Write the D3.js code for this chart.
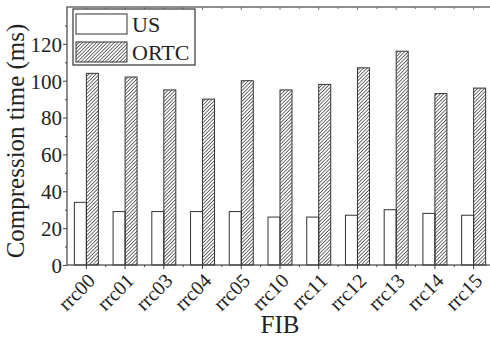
<!DOCTYPE html>
<html>
<head>
<meta charset="utf-8">
<script src="https://cdn.jsdelivr.net/npm/d3@7"></script>
<style>
  body { margin: 0; background: #fff; }
  text { font-family: "Liberation Serif", "Times New Roman", serif; fill: #222; }
</style>
</head>
<body>
<svg id="chart" width="490" height="338"></svg>
<script>
const categories = ["rrc00", "rrc01", "rrc03", "rrc04", "rrc05", "rrc10", "rrc11", "rrc12", "rrc13", "rrc14", "rrc15"];
const seriesNames = ["US", "ORTC"];
const usValues = [34, 29, 29, 29, 29, 26, 26, 27, 30, 28, 27];
const ortcValues = [104, 102, 95, 90, 100, 95, 98, 107, 116, 93, 96];
const yTicks = [0, 20, 40, 60, 80, 100, 120];

const svg = d3.select("#chart");
const margin = { left: 67, top: 7, right: -3, bottom: 73 };
const width = 490 - margin.left - margin.right;
const height = 338 - margin.top - margin.bottom;

// hatch pattern for ORTC
const defs = svg.append("defs");
defs.append("pattern")
    .attr("id", "hatch")
    .attr("patternUnits", "userSpaceOnUse")
    .attr("width", 2.5)
    .attr("height", 3)
    .attr("patternTransform", "rotate(45)")
    .append("line")
    .attr("x1", 0).attr("y1", 0)
    .attr("x2", 0).attr("y2", 3)
    .attr("stroke", "#111")
    .attr("stroke-width", 1.2);

const g = svg.append("g").attr("transform", `translate(${margin.left},${margin.top})`);

const x = d3.scaleBand().domain(categories).range([0, width]).padding(0);
const y = d3.scaleLinear().domain([0, 140]).range([height, 0]);
const barW = 12;

const fills = ["#fff", "url(#hatch)"];
const series = [usValues, ortcValues];

series.forEach((vals, si) => {
    g.selectAll(null)
        .data(vals)
        .enter()
        .append("rect")
        .attr("x", (d, i) => x(categories[i]) + x.bandwidth() / 2 - barW + si * barW)
        .attr("y", d => y(d))
        .attr("width", barW)
        .attr("height", d => height - y(d))
        .attr("fill", fills[si])
        .attr("stroke", "#333")
        .attr("stroke-width", 1);
});

// frame
g.append("rect")
    .attr("width", width).attr("height", height)
    .attr("fill", "none").attr("stroke", "#444").attr("stroke-width", 1.2);

// y axis, major + minor ticks
const yAxis = g.append("g")
    .call(d3.axisLeft(y).tickValues(yTicks).tickSize(4).tickPadding(1));
yAxis.select(".domain").remove();
yAxis.selectAll("text").style("font-size", "21px").attr("dy", "0.35em");
g.append("g")
    .call(d3.axisLeft(y).tickValues(d3.range(10, 140, 20)).tickSize(2).tickFormat(""))
    .select(".domain").remove();

// x axis
const xAxis = g.append("g")
    .attr("transform", `translate(0,${height})`)
    .call(d3.axisBottom(x).tickSize(4));
xAxis.select(".domain").remove();
xAxis.selectAll("text")
    .style("font-size", "20px")
    .attr("text-anchor", "end")
    .attr("x", 0).attr("y", 0).attr("dy", 0)
    .attr("transform", "translate(10,17) rotate(-45)");
// minor x ticks between categories
g.append("g")
    .selectAll("line")
    .data(categories.slice(1))
    .enter()
    .append("line")
    .attr("x1", d => x(d)).attr("x2", d => x(d))
    .attr("y1", height).attr("y2", height + 2)
    .attr("stroke", "#444");
// top ticks
g.append("g")
    .selectAll("line")
    .data(categories)
    .enter()
    .append("line")
    .attr("x1", d => x(d)).attr("x2", d => x(d))
    .attr("y1", 0).attr("y2", 2)
    .attr("stroke", "#777");
g.append("g")
    .selectAll("line")
    .data(categories)
    .enter()
    .append("line")
    .attr("x1", d => x(d) + x.bandwidth() / 2).attr("x2", d => x(d) + x.bandwidth() / 2)
    .attr("y1", 0).attr("y2", 3)
    .attr("stroke", "#777");

g.selectAll(".tick line").attr("stroke", "#444");

// axis titles
svg.append("text")
    .attr("x", margin.left + x("rrc10") + x.bandwidth() / 2)
    .attr("y", 333)
    .attr("text-anchor", "middle")
    .style("font-size", "25px")
    .text("FIB");
svg.append("text")
    .attr("transform", "translate(24,141) rotate(-90)")
    .attr("text-anchor", "middle")
    .style("font-size", "25px")
    .text("Compression time (ms)");

// legend
const lg = svg.append("g").attr("transform", "translate(73,9)");
lg.append("rect")
    .attr("width", 122).attr("height", 56)
    .attr("fill", "#fff").attr("stroke", "#333").attr("stroke-width", 1.2);
seriesNames.forEach((name, i) => {
    lg.append("rect")
        .attr("x", 3).attr("y", 5 + i * 28)
        .attr("width", 51).attr("height", 20)
        .attr("fill", fills[i]).attr("stroke", "#333").attr("stroke-width", 1);
    lg.append("text")
        .attr("x", 59).attr("y", 15 + i * 28)
        .attr("dy", "0.35em")
        .style("font-size", "22px")
        .text(name);
});
</script>
</body>
</html>
